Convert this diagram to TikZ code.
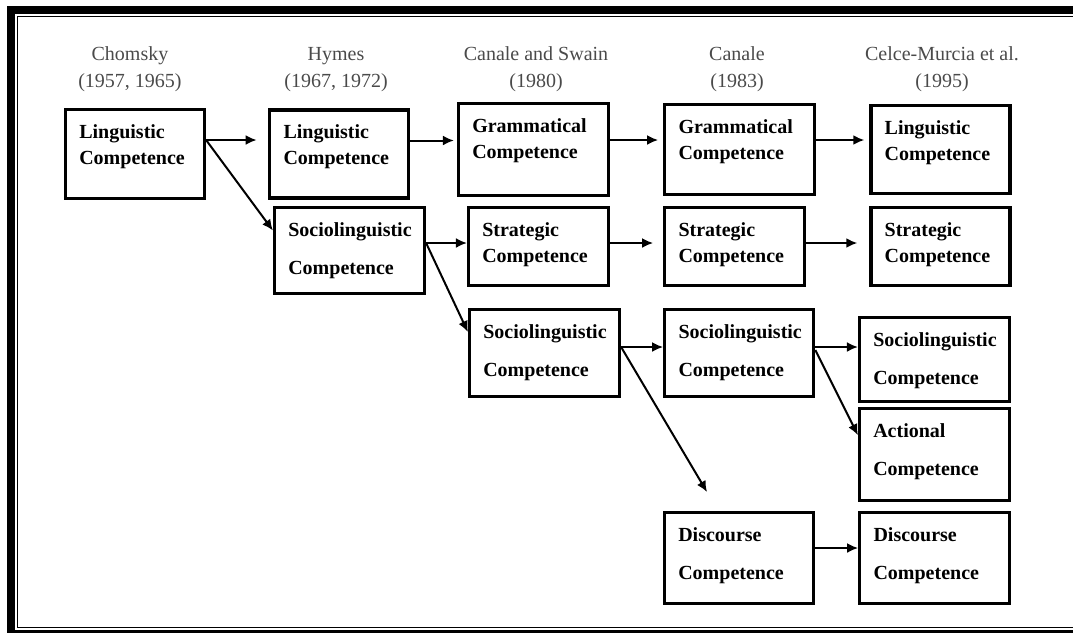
\documentclass[tikz,border=0pt]{standalone}
\usepackage{fontspec}
\setmainfont{Liberation Serif}
\usepackage{xcolor}
\usepackage{tikz}
\usetikzlibrary{arrows.meta,positioning}
\definecolor{hdrgray}{HTML}{4A4A4A}

\begin{document}
\begin{tikzpicture}[x=0.5pt,y=-0.5pt,>=Latex]

\tikzset{
box/.style={
    draw,
    line width=1.6pt,
    inner sep=0pt,
    minimum width=75pt,
    minimum height=45pt
},
narrow/.style={minimum width=69.5pt},
short/.style={minimum height=39pt},
txt/.style={
    anchor=north west,
    align=left,
    inner xsep=7.5pt,
    inner ysep=8pt,
    font=\fontsize{10}{13}\selectfont\bfseries
},
loose/.style={txt, font=\fontsize{10}{19}\selectfont\bfseries},
hdr/.style={align=center, text=hdrgray, font=\fontsize{10}{13.5}\selectfont},
arr/.style={-{Latex[length=5.5pt,width=5pt]}, line width=1pt}
}

\useasboundingbox (0,0) rectangle (1073,634);

% double frame
\fill (7,6) rectangle (1073,14);
\fill (7,6) rectangle (15,633);
\fill (7,630) rectangle (1073,633);
\draw[line width=0.75pt] (1073,16.7) -- (17.7,16.7) -- (17.7,627.7) -- (1073,627.7);

% column heads
\node[hdr] (hchom) at (130,69.5) {Chomsky\\(1957, 1965)};
\node[hdr] (hhym) at (336,69.5) {Hymes\\(1967, 1972)};
\node[hdr] (hcs) at (536,69.5) {Canale and Swain\\(1980)};
\node[hdr] (hcan) at (737,69.5) {Canale\\(1983)};
\node[hdr] (hcm) at (942,69.5) {Celce-Murcia et al.\\(1995)};

% Chomsky / Hymes
\node[box, narrow, minimum height=44.5pt, label={[txt]north west:{Linguistic\\Competence}}] (chom) at (135,154) {};
\node[box, narrow, minimum height=44pt, right=31pt of chom, label={[txt]north west:{Linguistic\\Competence}}] (hyl) {};
\node[box, minimum height=43pt, label={[loose]north west:{Sociolinguistic\\Competence}}] (hys) at (349.5,250.5) {};

% Canale and Swain
\node[box, minimum height=46pt, label={[txt]north west:{Grammatical\\Competence}}] (csg) at (533.5,149.5) {};
\node[box, short, minimum width=70pt, label={[txt]north west:{Strategic\\Competence}}] (css) at (538.5,246.5) {};
\node[box, minimum height=43.5pt, label={[loose]north west:{Sociolinguistic\\Competence}}] (csso) at (544.5,353) {};

% Canale
\node[box, right=26.5pt of csg, label={[txt]north west:{Grammatical\\Competence}}] (cag) {};
\node[box, short, minimum width=70pt, right=26.5pt of css, label={[txt]north west:{Strategic\\Competence}}] (cas) {};
\node[box, minimum width=74.5pt, minimum height=43.5pt, right=21pt of csso, label={[loose]north west:{Sociolinguistic\\Competence}}] (caso) {};
\node[box, minimum width=74.5pt, minimum height=45.5pt, label={[loose]north west:{Discourse\\Competence}}] (cad) at (739,558) {};
\coordinate (discend) at (707,492);

% Celce-Murcia et al.
\node[box, narrow, minimum height=44pt, right=26.5pt of cag, label={[txt]north west:{Linguistic\\Competence}}] (cml) {};
\node[box, short, narrow, right=31.5pt of cas, label={[txt]north west:{Strategic\\Competence}}] (cms) {};
\node[box, minimum height=42pt, label={[loose]north west:{Sociolinguistic\\Competence}}] (cmso) at (934.5,359.5) {};
\node[box, minimum height=46pt, below=2pt of cmso, label={[loose]north west:{Actional\\Competence}}] (cma) {};
\node[box, minimum height=45.5pt, right=21.5pt of cad, label={[loose]north west:{Discourse\\Competence}}] (cmd) {};

% connectors
\draw[arr, shorten >=5.75pt] ([yshift=7pt]chom.east) -- ([yshift=7pt]chom.east -| hyl.west);
\draw[arr] ([yshift=7pt]chom.east) -- ([yshift=10pt]hys.west);
\draw[arr, shorten >=1.5pt] ([yshift=6.75pt]hyl.east) -- ([yshift=6.75pt]hyl.east -| csg.west);
\draw[arr] ([yshift=3.75pt]hys.east) -- ([yshift=3.75pt]hys.east -| css.west);
\draw[arr] ([yshift=3.75pt]hys.east) -- ([yshift=10.5pt]csso.west);
\draw[arr, shorten >=2.5pt] ([yshift=4.75pt]csg.east) -- ([yshift=4.75pt]csg.east -| cag.west);
\draw[arr, shorten >=5pt] ([yshift=1.75pt]css.east) -- ([yshift=1.75pt]css.east -| cas.west);
\draw[arr, shorten >=2.5pt] ([yshift=4.75pt]cag.east) -- ([yshift=4.75pt]cag.east -| cml.west);
\draw[arr, shorten >=6pt] ([yshift=1.75pt]cas.east) -- ([yshift=1.75pt]cas.east -| cms.west);
\draw[arr] ([yshift=3pt]csso.east) -- ([yshift=3pt]csso.east -| caso.west);
\draw[arr] ([yshift=3pt]csso.east) -- (discend);
\draw[arr] ([yshift=3pt]caso.east) -- ([yshift=3pt]caso.east -| cmso.west);
\draw[arr] ([yshift=1.5pt]caso.east) -- ([yshift=9.75pt]cma.west);
\draw[arr] ([yshift=5pt]cad.east) -- ([yshift=5pt]cad.east -| cmd.west);

\end{tikzpicture}
\end{document}
